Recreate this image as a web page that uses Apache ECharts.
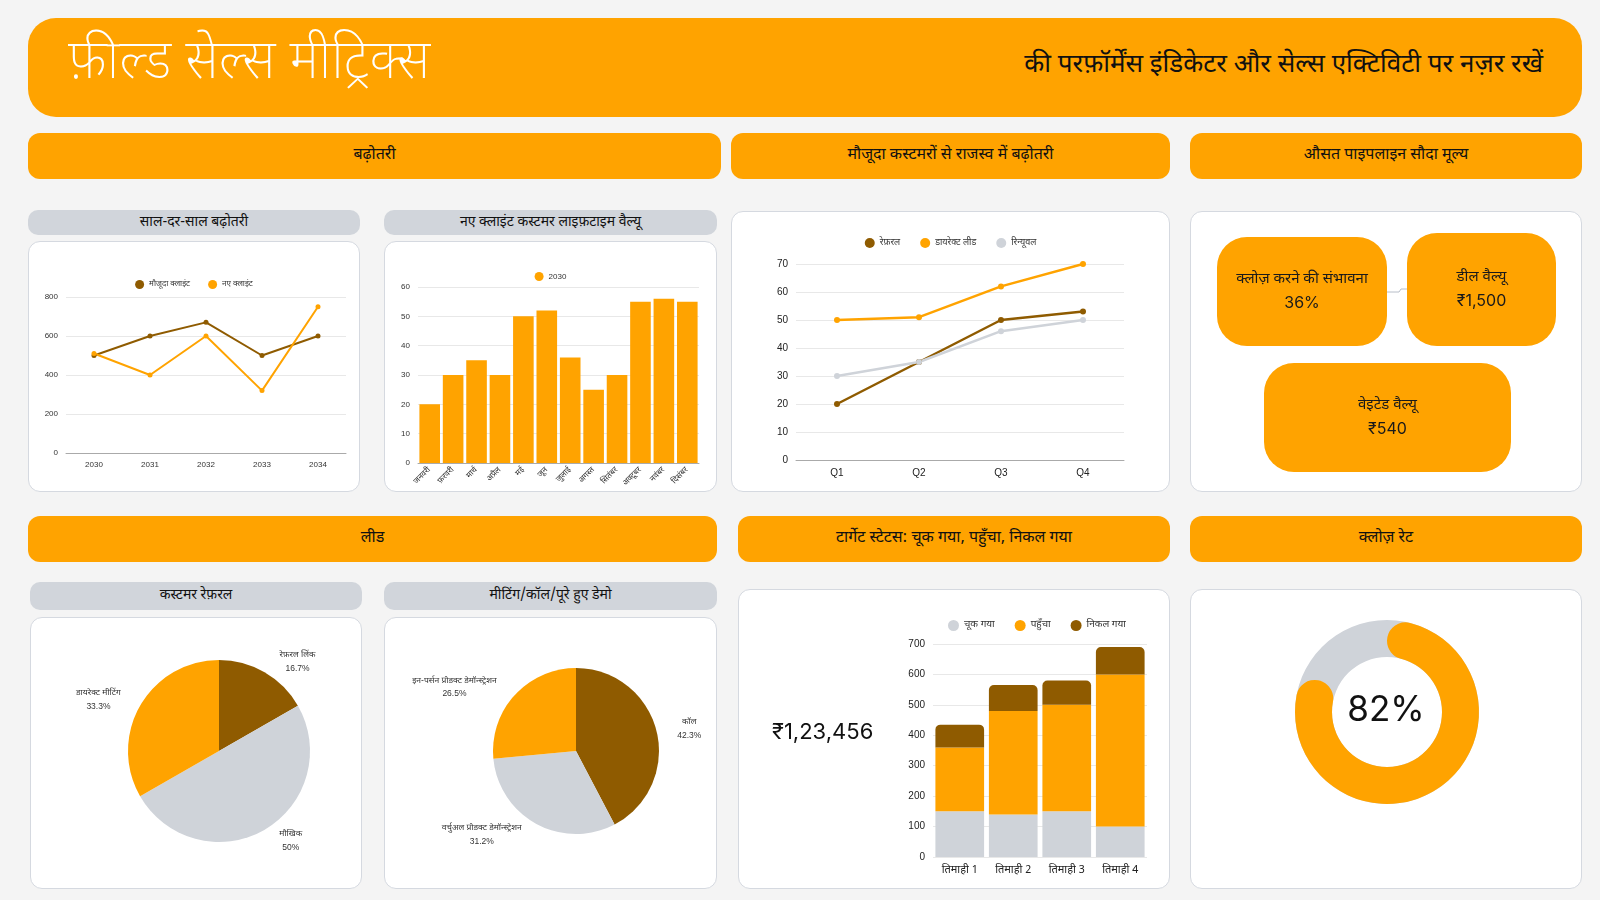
<!DOCTYPE html>
<html>
<head>
<meta charset="utf-8">
<script src="https://cdn.jsdelivr.net/npm/echarts@6/dist/echarts.min.js"></script>
<style>
  body { margin: 0; width: 1600px; height: 900px; background: #f4f4f4; position: relative; overflow: hidden;
         font-family: "Noto Sans Devanagari", "Noto Sans", sans-serif; color: #111; }
  .abs { position: absolute; box-sizing: border-box; }
  .hero { left: 28px; top: 18px; width: 1554px; height: 99px; background: #ffa300; border-radius: 28px; }
  .hero-title { left: 68px; top: 24px; height: 82px; line-height: 82px; font-size: 54px; font-weight: 200; color: #fff; }
  .hero-sub { right: 57px; top: 43px; height: 46px; line-height: 46px; font-size: 26px; font-weight: 400; color: #111; }
  .sec { background: #ffa300; border-radius: 12px; height: 46px; line-height: 46px; text-align: center; font-size: 16px; font-weight: 400; }
  .sub { background: #d1d5db; border-radius: 10px; text-align: center; font-size: 14px; font-weight: 400; }
  .card { background: #fff; border: 1px solid #d5d9e0; border-radius: 12px; }
  .chart { position: absolute; left: 0; top: 0; width: 100%; height: 100%; }
</style>
</head>
<body>
<div class="abs hero"></div>
<div class="abs hero-title">फ़ील्ड सेल्स मीट्रिक्स</div>
<div class="abs hero-sub">की परफ़ॉर्मेंस इंडिकेटर और सेल्स एक्टिविटी पर नज़र रखें</div>

<div class="abs sec" style="left:28px;top:133px;width:693px">बढ़ोतरी</div>
<div class="abs sec" style="left:731px;top:133px;width:439px">मौजूदा कस्टमरों से राजस्व में बढ़ोतरी</div>
<div class="abs sec" style="left:1190px;top:133px;width:392px">औसत पाइपलाइन सौदा मूल्य</div>

<div class="abs sub" style="left:28px;top:210px;width:332px;height:25px;line-height:25px">साल-दर-साल बढ़ोतरी</div>
<div class="abs sub" style="left:384px;top:210px;width:333px;height:25px;line-height:25px">नए क्लाइंट कस्टमर लाइफ़टाइम वैल्यू</div>

<div class="abs card" style="left:28px;top:241px;width:332px;height:251px"><div id="yoy" class="chart"></div></div>
<div class="abs card" style="left:384px;top:241px;width:333px;height:251px"><div id="ltv" class="chart"></div></div>
<div class="abs card" style="left:731px;top:211px;width:439px;height:281px"><div id="rev" class="chart"></div></div>
<div class="abs card" style="left:1190px;top:211px;width:392px;height:281px"><div id="kpi" class="chart"></div></div>

<div class="abs sec" style="left:28px;top:516px;width:689px">लीड</div>
<div class="abs sec" style="left:738px;top:516px;width:432px">टार्गेट स्टेटस: चूक गया, पहुँचा, निकल गया</div>
<div class="abs sec" style="left:1190px;top:516px;width:392px">क्लोज़ रेट</div>

<div class="abs sub" style="left:30px;top:582px;width:332px;height:28px;line-height:28px">कस्टमर रेफ़रल</div>
<div class="abs sub" style="left:384px;top:582px;width:333px;height:28px;line-height:28px">मीटिंग/कॉल/पूरे हुए डेमो</div>

<div class="abs card" style="left:30px;top:617px;width:332px;height:272px"><div id="referral" class="chart"></div></div>
<div class="abs card" style="left:384px;top:617px;width:333px;height:272px"><div id="demo" class="chart"></div></div>
<div class="abs card" style="left:738px;top:589px;width:432px;height:300px"><div id="target" class="chart"></div></div>
<div class="abs card" style="left:1190px;top:589px;width:392px;height:300px"><div id="close" class="chart"></div></div>

<script>
// colours
const ORANGE = '#ffa300';
const BROWN = '#8f5b00';
const GREY = '#cfd3d9';
const DEVA = '"Noto Sans Devanagari", "Noto Sans", sans-serif';
const NUM = '"Liberation Sans", Arial, sans-serif';

// साल-दर-साल बढ़ोतरी
const yoyYears = ['2030', '2031', '2032', '2033', '2034'];
const yoyExisting = [500, 600, 670, 500, 600];
const yoyNew = [510, 400, 600, 320, 750];

// नए क्लाइंट कस्टमर लाइफ़टाइम वैल्यू
const months = ['जनवरी', 'फ़रवरी', 'मार्च', 'अप्रैल', 'मई', 'जून', 'जुलाई', 'अगस्त', 'सितंबर', 'अक्टूबर', 'नवंबर', 'दिसंबर'];
const ltv2030 = [20, 30, 35, 30, 50, 52, 36, 25, 30, 55, 56, 55];

// मौजूदा कस्टमरों से राजस्व
const quarters = ['Q1', 'Q2', 'Q3', 'Q4'];
const revReferral = [20, 35, 50, 53];
const revDirect = [50, 51, 62, 70];
const revRenewal = [30, 35, 46, 50];

// औसत पाइपलाइन सौदा मूल्य
const kpiLabels = ['क्लोज़ करने की संभावना', 'डील वैल्यू', 'वेइटेड वैल्यू'];
const kpiValues = ['36%', '₹1,500', '₹540'];

// कस्टमर रेफ़रल
const referralNames = ['रेफ़रल लिंक', 'मौखिक', 'डायरेक्ट मीटिंग'];
const referralShares = [16.7, 50, 33.3];

// मीटिंग/कॉल/पूरे हुए डेमो
const demoNames = ['कॉल', 'वर्चुअल प्रोडक्ट डेमॉन्स्ट्रेशन', 'इन-पर्सन प्रोडक्ट डेमॉन्स्ट्रेशन'];
const demoShares = [42.3, 31.2, 26.5];

// टार्गेट स्टेटस
const targetQuarters = ['तिमाही 1', 'तिमाही 2', 'तिमाही 3', 'तिमाही 4'];
const targetMissed = [150, 140, 150, 100];
const targetReached = [210, 340, 350, 500];
const targetExceeded = [75, 85, 80, 90];
const targetTotal = '₹1,23,456';

// क्लोज़ रेट
const closeRate = 82;

function init(id, option) {
  const chart = echarts.init(document.getElementById(id), null, { renderer: 'canvas' });
  chart.setOption(Object.assign({ animation: false }, option));
  return chart;
}

const axisLabelSmall = { color: '#333', fontSize: 8, fontFamily: NUM };
const splitLine = { lineStyle: { color: '#e8e8e8' } };
const axisLine = { lineStyle: { color: '#aaa' } };

init('yoy', {
  legend: {
    top: 33, itemWidth: 9, itemHeight: 9, itemGap: 18, icon: 'circle',
    textStyle: { fontSize: 8, color: '#333', fontFamily: DEVA }
  },
  grid: { left: 37, right: 13, top: 55, bottom: 38 },
  xAxis: {
    type: 'category', data: yoyYears,
    axisTick: { show: false }, axisLine: axisLine, axisLabel: axisLabelSmall
  },
  yAxis: {
    type: 'value', min: 0, max: 800, interval: 200,
    axisLabel: axisLabelSmall, splitLine: splitLine
  },
  series: [
    { name: 'मौजूदा क्लाइंट', type: 'line', data: yoyExisting, color: BROWN,
      symbol: 'circle', symbolSize: 5, lineStyle: { width: 2 } },
    { name: 'नए क्लाइंट', type: 'line', data: yoyNew, color: ORANGE,
      symbol: 'circle', symbolSize: 5, lineStyle: { width: 2 } }
  ]
});

init('ltv', {
  legend: {
    top: 25, itemWidth: 9, itemHeight: 9, icon: 'circle',
    textStyle: { fontSize: 8, color: '#333', fontFamily: NUM }
  },
  grid: { left: 33, right: 17, top: 45, bottom: 28 },
  xAxis: {
    type: 'category', data: months,
    axisTick: { show: false }, axisLine: axisLine,
    axisLabel: { color: '#333', fontSize: 8, rotate: 45, interval: 0, fontFamily: DEVA, margin: 6 }
  },
  yAxis: {
    type: 'value', min: 0, max: 60, interval: 10,
    axisLabel: axisLabelSmall, splitLine: splitLine
  },
  series: [
    { name: '2030', type: 'bar', data: ltv2030, color: ORANGE, barCategoryGap: '12%' }
  ]
});

init('rev', {
  legend: {
    top: 21, itemWidth: 10, itemHeight: 10, itemGap: 20, icon: 'circle',
    textStyle: { fontSize: 9, color: '#333', fontFamily: DEVA }
  },
  grid: { left: 64, right: 45, top: 52, bottom: 31 },
  xAxis: {
    type: 'category', data: quarters,
    axisTick: { show: false }, axisLine: axisLine,
    axisLabel: { color: '#222', fontSize: 10, fontFamily: NUM }
  },
  yAxis: {
    type: 'value', min: 0, max: 70, interval: 10,
    axisLabel: { color: '#222', fontSize: 10, fontFamily: NUM }, splitLine: splitLine
  },
  series: [
    { name: 'रेफ़रल', type: 'line', data: revReferral, color: BROWN, symbol: 'circle', symbolSize: 6, lineStyle: { width: 2.5 } },
    { name: 'डायरेक्ट लीड', type: 'line', data: revDirect, color: ORANGE, symbol: 'circle', symbolSize: 6, lineStyle: { width: 2.5 } },
    { name: 'रिन्यूवल', type: 'line', data: revRenewal, color: GREY, symbol: 'circle', symbolSize: 6, lineStyle: { width: 2.5 } }
  ]
});

// KPI boxes
const kpiBoxes = [
  { x: 26, y: 25, w: 170, h: 109 },
  { x: 216, y: 21, w: 149, h: 113 },
  { x: 73, y: 151, w: 247, h: 109 }
];
init('kpi', {
  graphic: [
    { type: 'polyline', shape: { points: [[196, 80], [208, 80], [210, 77], [216, 77]] },
      style: { stroke: '#b8bec8', lineWidth: 1, fill: null } }
  ].concat(kpiBoxes.map((b, i) => ({
    type: 'group', left: b.x, top: b.y,
    children: [
      { type: 'rect', shape: { x: 0, y: 0, width: b.w, height: b.h, r: 30 }, style: { fill: ORANGE } },
      { type: 'text', x: b.w / 2, y: b.h / 2,
        style: {
          text: '{l|' + kpiLabels[i] + '}\n{v|' + kpiValues[i] + '}',
          align: 'center', verticalAlign: 'middle',
          rich: {
            l: { fontSize: 15, fontFamily: DEVA, fill: '#1a1a1a', lineHeight: 24, align: 'center' },
            v: { fontSize: 16, fontFamily: 'Inter, sans-serif', fill: '#1a1a1a', lineHeight: 22, align: 'center' }
          }
        } }
    ]
  })))
});

function pieLabel() {
  return {
    show: true, position: 'outside', overflow: 'none',
    formatter: '{n|{b}}\n{p|{d}%}',
    rich: {
      n: { fontSize: 8.5, color: '#333', fontFamily: DEVA, align: 'center', lineHeight: 14 },
      p: { fontSize: 8.5, color: '#333', fontFamily: NUM, align: 'center', lineHeight: 12 }
    }
  };
}

init('referral', {
  color: [BROWN, GREY, ORANGE],
  series: [{
    type: 'pie', center: [188, 133], radius: 91, startAngle: 90,
    label: pieLabel(), labelLine: { show: false, length: 12, length2: 4 },
    data: referralNames.map((n, i) => ({ name: n, value: referralShares[i] }))
  }]
});

init('demo', {
  color: [BROWN, GREY, ORANGE],
  series: [{
    type: 'pie', center: [191, 133], radius: 83, startAngle: 90,
    label: pieLabel(), labelLine: { show: false, length: 12, length2: 4 },
    data: demoNames.map((n, i) => ({ name: n, value: demoShares[i] }))
  }]
});

init('target', {
  legend: {
    top: 25, left: 204, itemWidth: 11, itemHeight: 11, itemGap: 20, icon: 'circle',
    textStyle: { fontSize: 10, color: '#333', fontFamily: DEVA }
  },
  grid: { left: 194, right: 22, top: 54, bottom: 31 },
  xAxis: {
    type: 'category', data: targetQuarters,
    axisTick: { show: false }, axisLine: { show: false },
    axisLabel: { color: '#222', fontSize: 11, fontFamily: DEVA, margin: 8 }
  },
  yAxis: {
    type: 'value', min: 0, max: 700, interval: 100,
    axisLabel: { color: '#222', fontSize: 10, fontFamily: NUM }, splitLine: splitLine
  },
  graphic: [
    { type: 'text', left: 33, top: 131,
      style: { text: targetTotal, fontSize: 22, fontFamily: 'Inter, sans-serif', fill: '#111' } }
  ],
  series: [
    { name: 'चूक गया', type: 'bar', stack: 't', data: targetMissed, color: GREY, barCategoryGap: '9%' },
    { name: 'पहुँचा', type: 'bar', stack: 't', data: targetReached, color: ORANGE },
    { name: 'निकल गया', type: 'bar', stack: 't', data: targetExceeded, color: BROWN,
      itemStyle: { borderRadius: [5, 5, 0, 0] } }
  ]
});

init('close', {
  graphic: [
    { type: 'text', left: 'center', top: 103,
      style: { text: closeRate + '%', fontSize: 35, fontFamily: 'Inter, sans-serif', fill: '#111' } }
  ],
  series: [
    { type: 'pie', center: [196, 122], radius: [55, 92], silent: true, label: { show: false },
      data: [{ value: 100, itemStyle: { color: GREY } }] },
    { type: 'pie', center: [196, 122], radius: [55, 92], startAngle: 90, silent: true, label: { show: false },
      data: [
        { value: closeRate, itemStyle: { color: ORANGE, borderRadius: 20 } },
        { value: 100 - closeRate, itemStyle: { color: 'rgba(0,0,0,0)' } }
      ] }
  ]
});
</script>
</body>
</html>
